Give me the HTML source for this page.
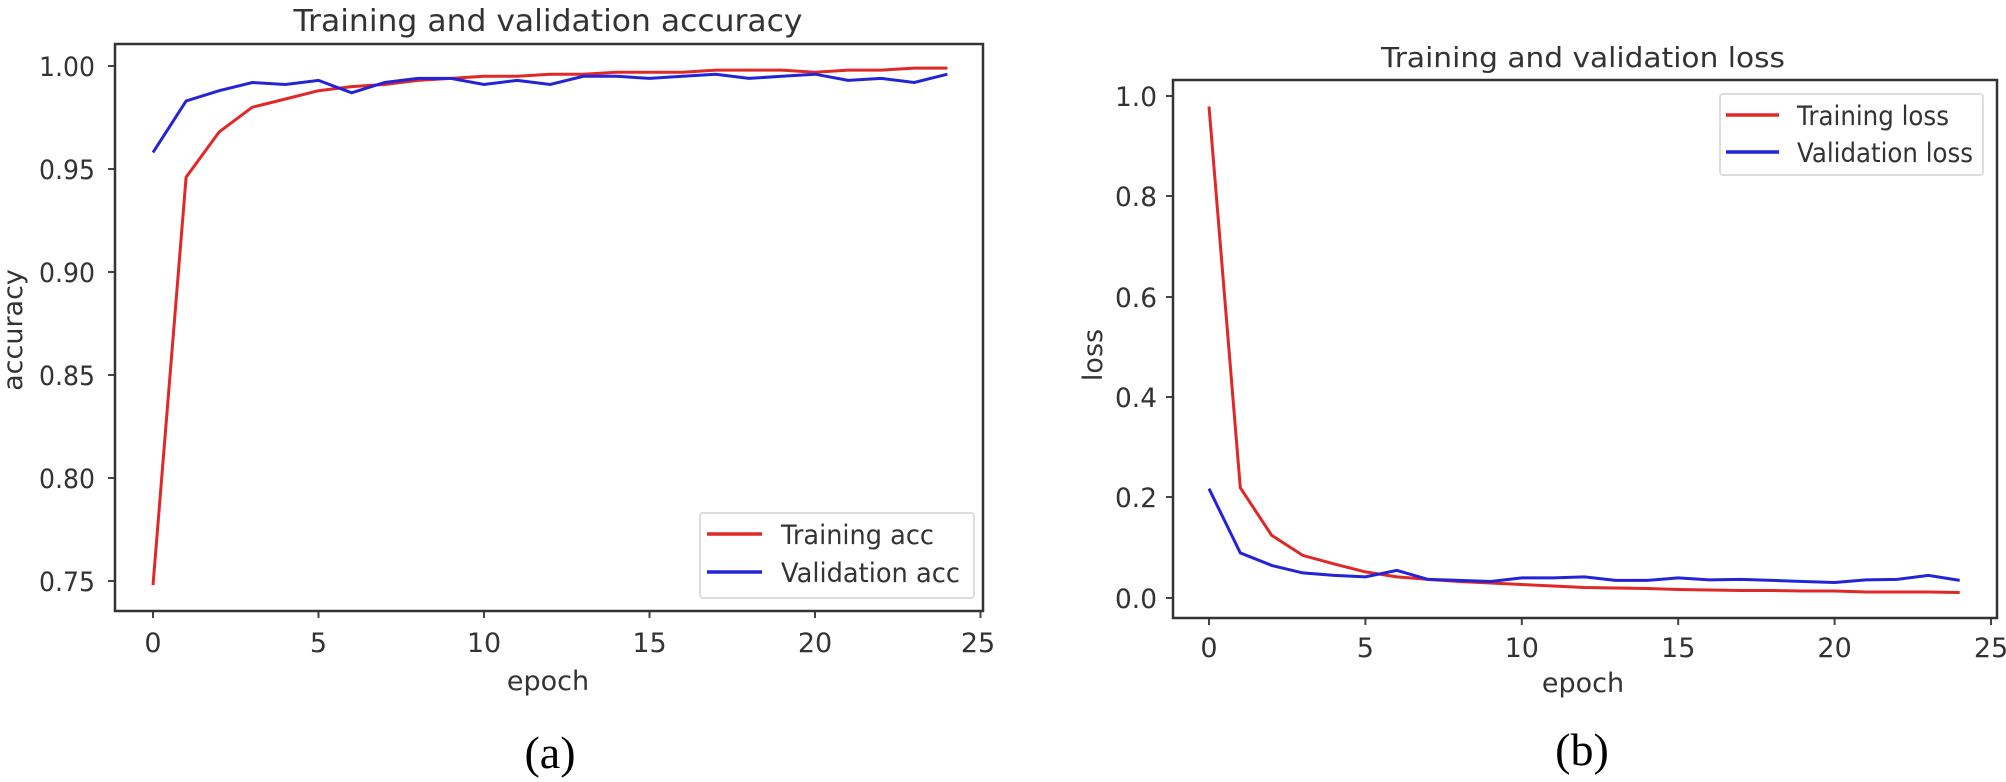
<!DOCTYPE html>
<html><head><meta charset="utf-8"><style>
html,body{margin:0;padding:0;background:#fff;}
svg{display:block;}
text{font-family:"DejaVu Sans","Liberation Sans",sans-serif;fill:#333;}
.tk{font-size:27px;}
.cap{font-family:"Liberation Serif",serif;font-size:46px;fill:#000;}
</style></head><body>
<svg id="s" width="2006" height="782" viewBox="0 0 2006 782" xmlns="http://www.w3.org/2000/svg">
<!-- left chart -->
<text x="548" y="31" font-size="30" text-anchor="middle" textLength="509" lengthAdjust="spacingAndGlyphs">Training and validation accuracy</text>
<g class="tk" text-anchor="end">
<text x="95" y="76" textLength="56" lengthAdjust="spacingAndGlyphs">1.00</text>
<text x="95" y="179" textLength="56" lengthAdjust="spacingAndGlyphs">0.95</text>
<text x="95" y="282" textLength="56" lengthAdjust="spacingAndGlyphs">0.90</text>
<text x="95" y="385" textLength="56" lengthAdjust="spacingAndGlyphs">0.85</text>
<text x="95" y="488" textLength="56" lengthAdjust="spacingAndGlyphs">0.80</text>
<text x="95" y="591" textLength="56" lengthAdjust="spacingAndGlyphs">0.75</text>
</g>
<g stroke="#444" stroke-width="2">
<line x1="108" y1="66" x2="115" y2="66"/><line x1="108" y1="169" x2="115" y2="169"/><line x1="108" y1="272" x2="115" y2="272"/><line x1="108" y1="375" x2="115" y2="375"/><line x1="108" y1="478" x2="115" y2="478"/><line x1="108" y1="581" x2="115" y2="581"/>
<line x1="153" y1="611" x2="153" y2="618"/><line x1="318.5" y1="611" x2="318.5" y2="618"/><line x1="484" y1="611" x2="484" y2="618"/><line x1="649.5" y1="611" x2="649.5" y2="618"/><line x1="815" y1="611" x2="815" y2="618"/><line x1="980.5" y1="611" x2="980.5" y2="618"/>
</g>
<g class="tk" text-anchor="middle">
<text x="153" y="652">0</text><text x="318.5" y="652">5</text><text x="484" y="652">10</text><text x="649.5" y="652">15</text><text x="815" y="652">20</text><text x="978" y="652">25</text>
</g>
<text x="548" y="690" font-size="27" text-anchor="middle">epoch</text>
<text transform="translate(22,330) rotate(-90)" font-size="27" text-anchor="middle">accuracy</text>
<polyline id="ta" fill="none" stroke="#e02828" stroke-width="3"/>
<polyline id="va" fill="none" stroke="#2323d8" stroke-width="3"/>
<rect x="115" y="44" width="868" height="567" fill="none" stroke="#333" stroke-width="2.5"/>
<rect x="700" y="513" width="274" height="85" fill="#fff" stroke="#ddd" stroke-width="2" rx="3"/>
<line x1="707" y1="534" x2="762" y2="534" stroke="#e02828" stroke-width="3.5"/>
<line x1="707" y1="572" x2="762" y2="572" stroke="#2323d8" stroke-width="3.5"/>
<text x="781" y="544" font-size="27" textLength="153" lengthAdjust="spacingAndGlyphs">Training acc</text>
<text x="781" y="582" font-size="27" textLength="179" lengthAdjust="spacingAndGlyphs">Validation acc</text>
<text class="cap" x="550" y="768" text-anchor="middle">(a)</text>

<!-- right chart -->
<text x="1583" y="67" font-size="28" text-anchor="middle" textLength="404" lengthAdjust="spacingAndGlyphs">Training and validation loss</text>
<g class="tk" text-anchor="end">
<text x="1157" y="106" textLength="42" lengthAdjust="spacingAndGlyphs">1.0</text>
<text x="1157" y="206" textLength="42" lengthAdjust="spacingAndGlyphs">0.8</text>
<text x="1157" y="307" textLength="42" lengthAdjust="spacingAndGlyphs">0.6</text>
<text x="1157" y="407" textLength="42" lengthAdjust="spacingAndGlyphs">0.4</text>
<text x="1157" y="507" textLength="42" lengthAdjust="spacingAndGlyphs">0.2</text>
<text x="1157" y="608" textLength="42" lengthAdjust="spacingAndGlyphs">0.0</text>
</g>
<g stroke="#444" stroke-width="2">
<line x1="1166" y1="96" x2="1173" y2="96"/><line x1="1166" y1="196" x2="1173" y2="196"/><line x1="1166" y1="297" x2="1173" y2="297"/><line x1="1166" y1="397" x2="1173" y2="397"/><line x1="1166" y1="497" x2="1173" y2="497"/><line x1="1166" y1="598" x2="1173" y2="598"/>
<line x1="1209" y1="618" x2="1209" y2="625"/><line x1="1365.4" y1="618" x2="1365.4" y2="625"/><line x1="1521.8" y1="618" x2="1521.8" y2="625"/><line x1="1678.2" y1="618" x2="1678.2" y2="625"/><line x1="1834.6" y1="618" x2="1834.6" y2="625"/><line x1="1991" y1="618" x2="1991" y2="625"/>
</g>
<g class="tk" text-anchor="middle">
<text x="1209" y="657">0</text><text x="1365.4" y="657">5</text><text x="1521.8" y="657">10</text><text x="1678.2" y="657">15</text><text x="1834.6" y="657">20</text><text x="1991" y="657">25</text>
</g>
<text x="1583" y="692" font-size="27" text-anchor="middle">epoch</text>
<text transform="translate(1102,355) rotate(-90)" font-size="27" text-anchor="middle">loss</text>
<polyline id="tl" fill="none" stroke="#e02828" stroke-width="3"/>
<polyline id="vl" fill="none" stroke="#2323d8" stroke-width="3"/>
<rect x="1173" y="80" width="824" height="538" fill="none" stroke="#333" stroke-width="2.5"/>
<rect x="1720" y="94" width="263" height="81" fill="#fff" stroke="#ddd" stroke-width="2" rx="3"/>
<line x1="1726" y1="115" x2="1779" y2="115" stroke="#e02828" stroke-width="3.5"/>
<line x1="1726" y1="152" x2="1779" y2="152" stroke="#2323d8" stroke-width="3.5"/>
<text x="1797" y="125" font-size="27" textLength="152" lengthAdjust="spacingAndGlyphs">Training loss</text>
<text x="1797" y="162" font-size="27" textLength="176" lengthAdjust="spacingAndGlyphs">Validation loss</text>
<text class="cap" x="1582" y="765" text-anchor="middle">(b)</text>
</svg>
<script>
function pts(a,fx,fy){return a.map(function(v,i){return fx(i).toFixed(1)+","+fy(v).toFixed(1);}).join(" ");}
var ta=[0.748,0.946,0.968,0.980,0.984,0.988,0.990,0.991,0.993,0.994,0.995,0.995,0.996,0.996,0.997,0.997,0.997,0.998,0.998,0.998,0.997,0.998,0.998,0.999,0.999];
var va=[0.958,0.983,0.988,0.992,0.991,0.993,0.987,0.992,0.994,0.994,0.991,0.993,0.991,0.995,0.995,0.994,0.995,0.996,0.994,0.995,0.996,0.993,0.994,0.992,0.996];
var tl=[0.98,0.22,0.125,0.085,0.068,0.052,0.042,0.037,0.033,0.030,0.027,0.024,0.021,0.020,0.019,0.017,0.016,0.015,0.015,0.014,0.014,0.012,0.012,0.012,0.011];
var vl=[0.218,0.09,0.065,0.05,0.045,0.042,0.055,0.037,0.035,0.033,0.04,0.04,0.042,0.035,0.035,0.04,0.036,0.037,0.035,0.033,0.031,0.036,0.037,0.045,0.035];
var ax=function(i){return 153+33.1*i;},ay=function(v){return 66+2060*(1-v);};
var lx=function(i){return 1209+31.28*i;},ly=function(v){return 598-501.5*v;};
document.getElementById("ta").setAttribute("points",pts(ta,ax,ay));
document.getElementById("va").setAttribute("points",pts(va,ax,ay));
document.getElementById("tl").setAttribute("points",pts(tl,lx,ly));
document.getElementById("vl").setAttribute("points",pts(vl,lx,ly));
</script>
</body></html>
